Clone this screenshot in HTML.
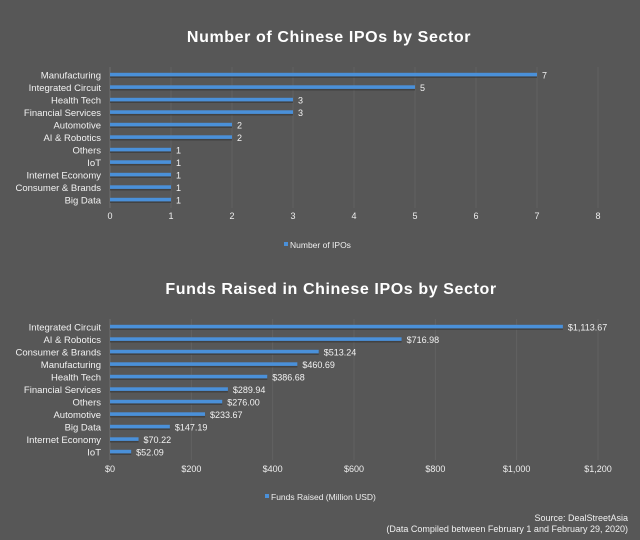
<!DOCTYPE html>
<html><head><meta charset="utf-8"><style>
html,body{margin:0;padding:0;background:#575757;}
svg{display:block;font-family:"Liberation Sans",Arial,sans-serif;}
</style></head><body>
<svg id="s" width="640" height="540" xmlns="http://www.w3.org/2000/svg">
<rect width="640" height="540" fill="#575757"/>
<text x="329" y="42" text-anchor="middle" font-size="16" font-weight="bold" fill="#fff" letter-spacing="0.6">Number of Chinese IPOs by Sector</text>
<text x="331" y="294" text-anchor="middle" font-size="16" font-weight="bold" fill="#fff" letter-spacing="0.6">Funds Raised in Chinese IPOs by Sector</text>
<text x="628" y="521" text-anchor="end" font-size="9" fill="#f0f0f0">Source: DealStreetAsia</text>
<text x="628" y="532" text-anchor="end" font-size="9" fill="#f0f0f0">(Data Compiled between February 1 and February 29, 2020)</text>
</svg>
<script>
var s=document.getElementById('s'),NS='http://www.w3.org/2000/svg';
function el(t,a,txt){var e=document.createElementNS(NS,t);for(var k in a)e.setAttribute(k,a[k]);if(txt!=null)e.textContent=txt;s.appendChild(e);return e;}
function chart(y0,rows,max,step,fmt,lab,tickY,legY,legText,legX){
  var x0=110,x1=598,sc=(x1-x0)/max;
  for(var v=0;v<=max;v+=step){var x=x0+v*sc;
    el('line',{x1:x,x2:x,y1:y0-8,y2:y0+12.5*(rows.length-1)+8,stroke:v==0?'#6c6c6c':'#626262','stroke-width':1});
    el('text',{x:x,y:tickY,'text-anchor':'middle','font-size':9,fill:'#eee'},fmt(v));}
  rows.forEach(function(r,i){var y=y0+i*12.5,w=r[1]*sc;
    el('text',{x:101,y:y+3.5,'text-anchor':'end','font-size':9.5,fill:'#f2f2f2'},r[0]);
    el('rect',{x:x0,y:y-1,width:w,height:4,fill:'#333',opacity:0.6});
    el('rect',{x:x0,y:y-2.2,width:w,height:3.6,fill:'#4a90d9'});
    el('text',{x:x0+w+5,y:y+3.5,'font-size':9,fill:'#f2f2f2'},lab(r[1]));});
  el('rect',{x:legX,y:legY-6,width:4,height:4,fill:'#4a90d9'});
  el('text',{x:legX+6,y:legY,'font-size':8.5,fill:'#eee'},legText);
}
chart(75,[["Manufacturing",7],["Integrated Circuit",5],["Health Tech",3],["Financial Services",3],["Automotive",2],["AI & Robotics",2],["Others",1],["IoT",1],["Internet Economy",1],["Consumer & Brands",1],["Big Data",1]],
 8,1,function(v){return v},function(v){return v},219,248,"Number of IPOs",284);
function money(v){var p=v.toFixed(2).split('.');return '$'+p[0].replace(/\B(?=(\d{3})+$)/g,',')+'.'+p[1];}
chart(327,[["Integrated Circuit",1113.67],["AI & Robotics",716.98],["Consumer & Brands",513.24],["Manufacturing",460.69],["Health Tech",386.68],["Financial Services",289.94],["Others",276.00],["Automotive",233.67],["Big Data",147.19],["Internet Economy",70.22],["IoT",52.09]],
 1200,200,function(v){return '$'+(v>=1000?'1,'+String(v).slice(1):v)},money,472,500,"Funds Raised (Million USD)",265);
</script>
</body></html>
